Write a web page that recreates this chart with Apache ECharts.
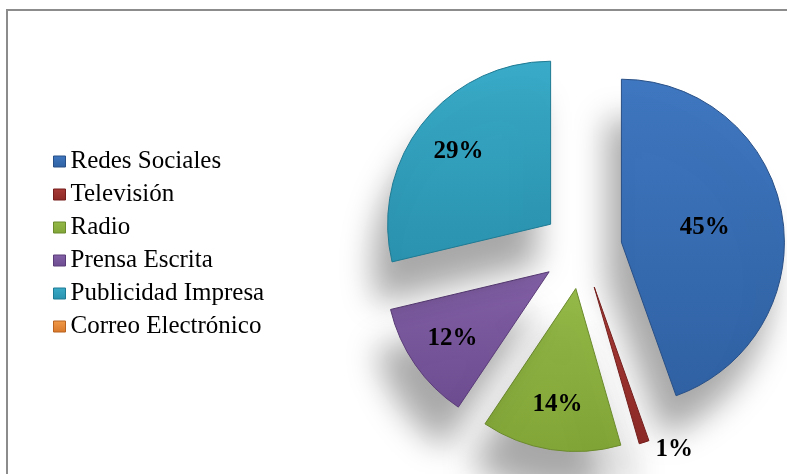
<!DOCTYPE html>
<html>
<head>
<meta charset="utf-8">
<script src="https://cdn.jsdelivr.net/npm/echarts@6/dist/echarts.min.js"></script>
<style>
  html, body { margin: 0; padding: 0; background: #ffffff; }
  #frame { position: absolute; left: 6px; top: 9px; width: 900px; height: 600px;
           border-top: 2px solid #8c8c8c; border-left: 2px solid #8c8c8c; }
  #chart { position: absolute; left: 0; top: 0; width: 787px; height: 474px; }
</style>
</head>
<body>
<div id="frame"></div>
<div id="chart"></div>
<script>
// Medio de difusión preferido (porcentaje)
const categories = ['Redes Sociales', 'Televisión', 'Radio', 'Prensa Escrita', 'Publicidad Impresa', 'Correo Electrónico'];
const values = [45, 1, 14, 12, 29, 0];

// Slice fills: [top, bottom, edge]
const palette = [
  ['#3f77c0', '#2f61a3', '#284f86'],
  ['#a83a36', '#8c2a27', '#741f1d'],
  ['#94b948', '#82a537', '#6b8a2c'],
  ['#8461a8', '#6d4c90', '#5a3c78'],
  ['#39abc8', '#2a92ae', '#1f7a93'],
  ['#f09a48', '#d9782a', '#b86320']
];

const serif = 'Liberation Serif';

function fill(i) {
  const p = palette[i];
  return new echarts.graphic.LinearGradient(0, 0, 0, 1, [
    { offset: 0, color: p[0] }, { offset: 1, color: p[1] }
  ]);
}

const CENTER = [582, 249];
const RADIUS = 163;
const EXPLODE = 40;

// Main slices: Redes Sociales label sits mid-slice, Televisión label outside the tip
const mainData = categories.map((name, i) => ({
  name: name,
  value: values[i],
  selected: true,
  itemStyle: values[i] > 0
    ? { color: fill(i), borderColor: palette[i][2], borderWidth: 1 }
    : { color: fill(i), borderWidth: 0, shadowBlur: 0, shadowColor: 'transparent' },
  label: i === 0 ? { show: true, position: 'inside' }
       : i === 1 ? { show: true, position: 'outside' }
       : { show: false }
}));

// Label ring for the remaining slices, placed further out along each slice
const ringData = categories.map((name, i) => ({
  name: name,
  value: values[i],
  selected: true,
  label: { show: (i >= 2 && i <= 4) }
}));

const labelFont = {
  fontFamily: serif,
  fontWeight: 'bold',
  fontSize: 25,
  color: '#000000'
};

const chart = echarts.init(document.getElementById('chart'));
chart.setOption({
  animation: false,
  legend: {
    orient: 'vertical',
    left: 48,
    top: 144,
    icon: 'rect',
    itemWidth: 12,
    itemHeight: 11,
    itemGap: 8,
    data: categories.map((name, i) => ({
      name: name,
      itemStyle: { color: fill(i), borderColor: palette[i][2], borderWidth: 1 }
    })),
    textStyle: { fontSize: 25, fontFamily: serif, color: '#000000' }
  },
  series: [
    {
      type: 'pie',
      center: CENTER,
      radius: RADIUS,
      startAngle: 90,
      clockwise: true,
      selectedMode: 'multiple',
      selectedOffset: EXPLODE,
      silent: true,
      avoidLabelOverlap: false,
      itemStyle: {
        shadowBlur: 32,
        shadowColor: 'rgba(0,0,0,0.34)',
        shadowOffsetX: -14,
        shadowOffsetY: 40
      },
      label: Object.assign({ formatter: '{c}%' }, labelFont),
      labelLine: { show: false, length: 8, length2: 4 },
      emphasis: { disabled: true },
      data: mainData
    },
    {
      type: 'pie',
      center: CENTER,
      radius: [66, RADIUS],
      startAngle: 90,
      clockwise: true,
      selectedMode: 'multiple',
      selectedOffset: EXPLODE,
      silent: true,
      legendHoverLink: false,
      itemStyle: { color: 'rgba(0,0,0,0)' },
      label: Object.assign({ position: 'inside', formatter: '{c}%' }, labelFont),
      labelLine: { show: false },
      emphasis: { disabled: true },
      data: ringData
    }
  ]
});
</script>
</body>
</html>
